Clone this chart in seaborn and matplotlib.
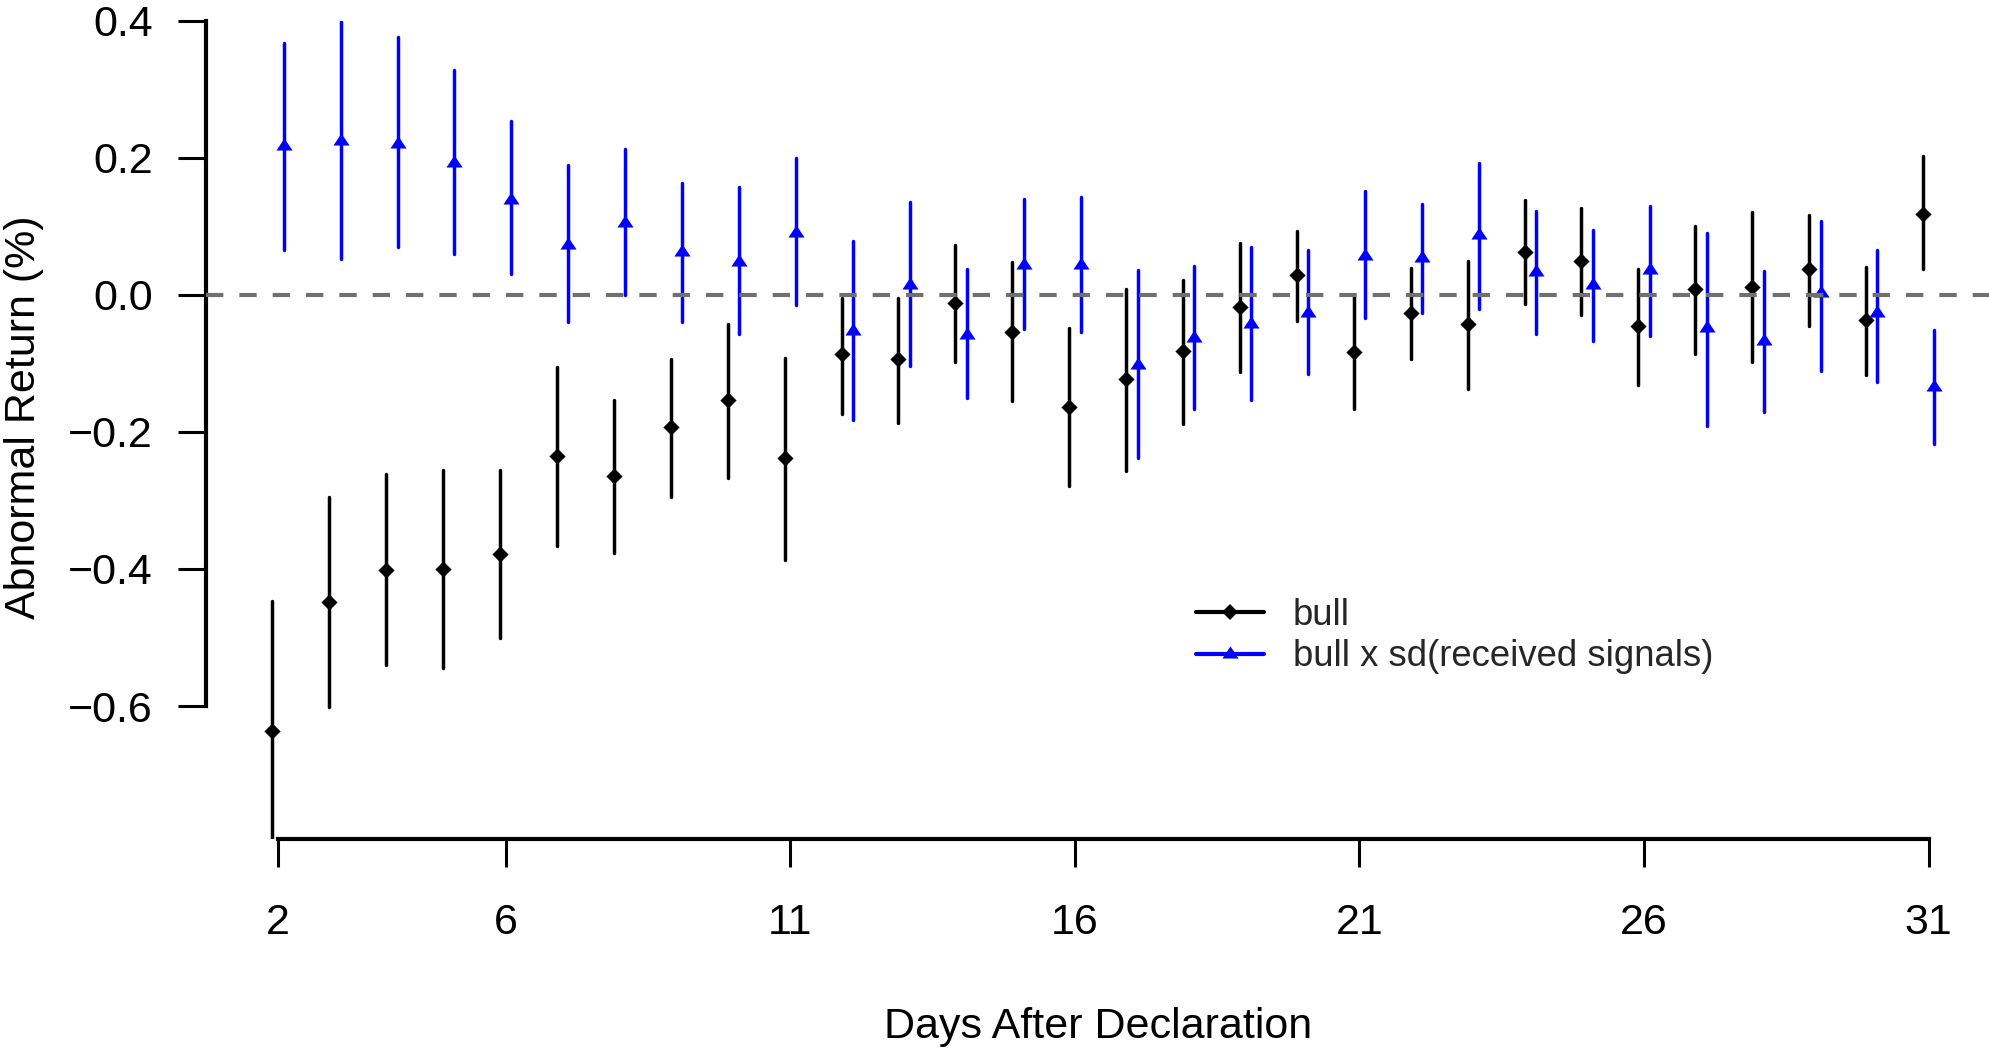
import numpy as np
import pandas as pd
import matplotlib
matplotlib.use("Agg")
import matplotlib.pyplot as plt
from matplotlib.lines import Line2D
import seaborn as sns

# ---------------- data ----------------
days = list(range(2, 32))

bull_est = [-0.637, -0.448, -0.402, -0.400, -0.378, -0.235, -0.265, -0.193, -0.154, -0.238,
            -0.087, -0.094, -0.012, -0.054, -0.163, -0.123, -0.082, -0.018, 0.029, -0.084,
            -0.026, -0.043, 0.063, 0.050, -0.046, 0.009, 0.011, 0.037, -0.036, 0.118]
bull_lo = [-0.794, -0.602, -0.540, -0.544, -0.500, -0.366, -0.376, -0.295, -0.267, -0.387,
           -0.174, -0.187, -0.098, -0.155, -0.279, -0.257, -0.188, -0.113, -0.038, -0.167,
           -0.094, -0.137, -0.014, -0.030, -0.132, -0.086, -0.098, -0.045, -0.117, 0.037]
bull_hi = [-0.446, -0.295, -0.262, -0.255, -0.256, -0.106, -0.153, -0.094, -0.042, -0.092,
           -0.004, -0.004, 0.073, 0.048, -0.048, 0.009, 0.022, 0.076, 0.093, -0.002,
           0.039, 0.050, 0.139, 0.127, 0.038, 0.101, 0.121, 0.117, 0.041, 0.202]

sd_est = [0.217, 0.224, 0.220, 0.193, 0.139, 0.073, 0.105, 0.062, 0.048, 0.090,
          -0.053, 0.014, -0.058, 0.044, 0.043, -0.102, -0.063, -0.042, -0.026, 0.057,
          0.054, 0.088, 0.033, 0.014, 0.036, -0.048, -0.067, 0.002, -0.026, -0.134]
sd_lo = [0.065, 0.052, 0.070, 0.060, 0.030, -0.040, 0.000, -0.039, -0.057, -0.015,
         -0.182, -0.104, -0.150, -0.050, -0.054, -0.238, -0.167, -0.153, -0.116, -0.034,
         -0.027, -0.020, -0.057, -0.068, -0.060, -0.191, -0.171, -0.111, -0.127, -0.218]
sd_hi = [0.367, 0.400, 0.376, 0.328, 0.253, 0.189, 0.213, 0.163, 0.157, 0.200,
         0.078, 0.136, 0.038, 0.140, 0.143, 0.036, 0.042, 0.070, 0.066, 0.151,
         0.132, 0.192, 0.122, 0.094, 0.130, 0.090, 0.035, 0.108, 0.065, -0.052]

series_labels = ["bull", "bull x sd(received signals)"]
xtick_values = [2, 6, 11, 16, 21, 26, 31]
ytick_values = [-0.6, -0.4, -0.2, 0.0, 0.2, 0.4]
ytick_labels = ["\u22120.6", "\u22120.4", "\u22120.2", "0.0", "0.2", "0.4"]
xlabel = "Days After Declaration"
ylabel = "Abnormal Return (%)"

# ---------------- style ----------------
sns.set_theme(style="white")
plt.rcParams["font.family"] = ["Liberation Sans", "DejaVu Sans"]
plt.rcParams["lines.scale_dashes"] = False

BLACK = "#000000"
BLUE = "#0000FF"
DODGE = 0.1
TRI = [(-1.347, -0.674), (1.347, -0.674), (0.0, 1.347)]

df = pd.DataFrame({
    "day": days * 2,
    "series": [series_labels[0]] * len(days) + [series_labels[1]] * len(days),
    "est": bull_est + sd_est,
    "lo": bull_lo + sd_lo,
    "hi": bull_hi + sd_hi,
})
df["xpos"] = df["day"] + np.where(df["series"] == series_labels[0], -DODGE, DODGE)

W, H = 1990, 1052
fig = plt.figure(figsize=(W / 100, H / 100), dpi=100)
ax = fig.add_axes([205.7 / W, 1 - 839 / H, (2001 - 205.7) / W, (839 - 20.7) / H])

colors = {series_labels[0]: BLACK, series_labels[1]: BLUE}
for lab in series_labels:
    sub = df[df["series"] == lab]
    ax.vlines(sub["xpos"], sub["lo"], sub["hi"], colors=colors[lab],
              linewidth=2.5, capstyle="round", zorder=2)

sub_b = df[df["series"] == series_labels[0]]
sub_s = df[df["series"] == series_labels[1]]
sns.scatterplot(data=sub_b, x="xpos", y="est", color=BLACK, marker="D", s=68,
                linewidth=0, legend=False, ax=ax, zorder=3)
sns.scatterplot(data=sub_s, x="xpos", y="est", color=BLUE, marker=TRI, s=135,
                linewidth=0, legend=False, ax=ax, zorder=3)

ax.axhline(0, color="#707070", linewidth=3.0, dashes=(12.5, 11.5), zorder=4)

ax.set_xlim(0.73, 32.27)
ax.set_ylim(min(df["lo"]), max(df["hi"]))

ax.set_xticks(xtick_values)
ax.set_xticklabels([str(v) for v in xtick_values])
ax.set_yticks(ytick_values)
ax.set_yticklabels(ytick_labels)

for s in ["top", "right"]:
    ax.spines[s].set_visible(False)
for s in ["left", "bottom"]:
    ax.spines[s].set_linewidth(3.0)
    ax.spines[s].set_color(BLACK)
    ax.spines[s].set_capstyle("projecting")
ax.spines["left"].set_bounds(-0.6, 0.4)
ax.spines["bottom"].set_bounds(2, 31)

ax.tick_params(axis="both", which="major", bottom=True, left=True, length=20, width=2.2,
               color=BLACK, labelsize=31, labelcolor=BLACK, direction="out")
ax.tick_params(axis="x", pad=26)
ax.tick_params(axis="y", pad=18)
ax.grid(False)

ax.set_xlabel(xlabel, fontsize=31, color=BLACK)
ax.set_ylabel(ylabel, fontsize=31, color=BLACK)
ax.xaxis.set_label_coords(1098 / W, 1 - 1038 / H, transform=fig.transFigure)
ax.xaxis.label.set_va("baseline")
ax.yaxis.set_label_coords(24 / W, 1 - 417 / H, transform=fig.transFigure)
ax.yaxis.label.set_va("center")

handles = [
    Line2D([], [], color=BLACK, lw=3.0, marker="D", markersize=8.3, markeredgewidth=0),
    Line2D([], [], color=BLUE, lw=3.0, marker=TRI, markersize=11.6, markeredgewidth=0),
]
ax.legend(handles, series_labels, loc="center left",
          bbox_to_anchor=(1196 / W, 1 - 636 / H), bbox_transform=fig.transFigure,
          frameon=False, fontsize=26.3, handlelength=1.85, handletextpad=0.8,
          borderpad=0, borderaxespad=0, labelspacing=0.18)

fig.savefig("out.png", dpi=100)
